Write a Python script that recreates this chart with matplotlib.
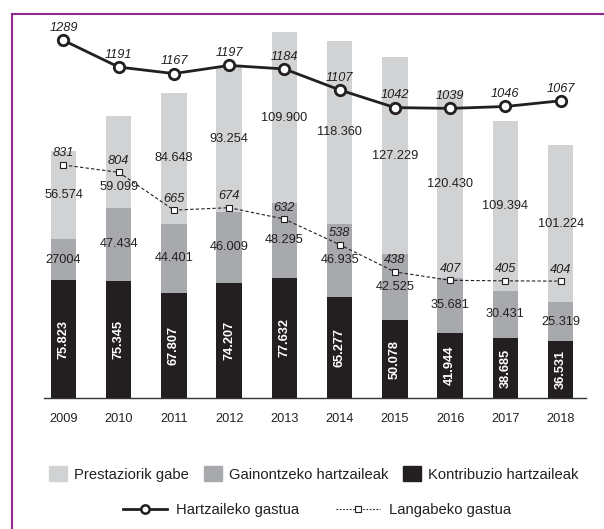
import matplotlib
matplotlib.use("Agg")
import matplotlib.pyplot as plt
from matplotlib.lines import Line2D
from matplotlib.patches import Patch
import numpy as np

years = ["2009", "2010", "2011", "2012", "2013", "2014", "2015", "2016", "2017", "2018"]
kontribuzio = [75823, 75345, 67807, 74207, 77632, 65277, 50078, 41944, 38685, 36531]
gainontzeko = [27004, 47434, 44401, 46009, 48295, 46935, 42525, 35681, 30431, 25319]
prestaziorik = [56574, 59099, 84648, 93254, 109900, 118360, 127229, 120430, 109394, 101224]
kontribuzio_lbl = ["75.823", "75.345", "67.807", "74.207", "77.632", "65.277", "50.078", "41.944", "38.685", "36.531"]
gainontzeko_lbl = ["27004", "47.434", "44.401", "46.009", "48.295", "46.935", "42.525", "35.681", "30.431", "25.319"]
prestaziorik_lbl = ["56.574", "59.099", "84.648", "93.254", "109.900", "118.360", "127.229", "120.430", "109.394", "101.224"]
hartzaileko = [1289, 1191, 1167, 1197, 1184, 1107, 1042, 1039, 1046, 1067]
langabeko = [831, 804, 665, 674, 632, 538, 438, 407, 405, 404]

C_LIGHT = "#d1d2d4"
C_MID = "#a7a9ac"
C_DARK = "#231f20"
PURPLE = "#8e2a8e"
TXT = "#231f20"

plt.rcParams["font.family"] = ["Liberation Sans", "DejaVu Sans"]

fig = plt.figure(figsize=(6.04, 5.29), dpi=100)
ax = fig.add_axes([44/604, 1-398/529, (586-44)/604, (398-20)/529])
x = np.arange(len(years))
w = 0.46

k = np.array(kontribuzio); g = np.array(gainontzeko); p = np.array(prestaziorik)
ax.bar(x, k, w, color=C_DARK, zorder=2)
ax.bar(x, g, w, bottom=k, color=C_MID, zorder=2)
ax.bar(x, p, w, bottom=k+g, color=C_LIGHT, zorder=2)

ax.set_xlim(-0.353, 9.46)
ax.set_ylim(0, 243870)
for s in ["top", "left", "right"]:
    ax.spines[s].set_visible(False)
ax.spines["bottom"].set_color("#333333")
ax.spines["bottom"].set_linewidth(1.0)
ax.set_yticks([])
ax.set_xticks(x)
ax.set_xticklabels(years, fontsize=9.2)
ax.tick_params(axis="x", length=0, pad=11, colors=TXT)

ax2 = ax.twinx()
ax2.set_ylim(-25.7, 1364)
ax2.axis("off")
ax2.plot(x, hartzaileko, color=C_DARK, lw=2.0, marker="o", ms=7.5, mfc="white",
         mec=C_DARK, mew=2.0, zorder=4)
ax2.plot(x, langabeko, color=C_DARK, lw=0.8, ls=(0, (3, 2)), marker="s", ms=5, mfc="white",
         mec=C_DARK, mew=0.8, zorder=4)
for i in range(len(years)):
    ax2.annotate(str(hartzaileko[i]), (x[i], hartzaileko[i]), xytext=(0, 4.5), textcoords="offset points",
                 ha="center", va="bottom", fontsize=9.2, style="italic", color=TXT)
    ax2.annotate(str(langabeko[i]), (x[i], langabeko[i]), xytext=(0, 4), textcoords="offset points",
                 ha="center", va="bottom", fontsize=9.2, style="italic", color=TXT)

for i in range(len(years)):
    ax.text(x[i], k[i]/2, kontribuzio_lbl[i], rotation=90, ha="center", va="center",
            color="white", fontsize=9.2, fontweight="bold", zorder=5)
    ax.text(x[i], k[i] + g[i]/2, gainontzeko_lbl[i], ha="center", va="center",
            color=TXT, fontsize=9.2, zorder=5)
    # light segment label: centred, but pushed below the dashed-line marker if they collide
    cy = ax.transData.transform((x[i], k[i] + g[i] + p[i]/2))[1]
    my = ax2.transData.transform((x[i], langabeko[i]))[1]
    if abs(cy - my) < 16:
        cy = my - 15
    yv = ax.transData.inverted().transform((0, cy))[1]
    ax.text(x[i], yv, prestaziorik_lbl[i], ha="center", va="center",
            color=TXT, fontsize=9.2, zorder=5)

# legends
h1 = [Patch(color=C_LIGHT), Patch(color=C_MID), Patch(color=C_DARK)]
l1 = ["Prestaziorik gabe", "Gainontzeko hartzaileak", "Kontribuzio hartzaileak"]
fig.legend(h1, l1, loc="center", bbox_to_anchor=(314/604, 1-474/529), ncol=3, frameon=False,
           fontsize=10.6, handlelength=1.2, handleheight=1.2, columnspacing=1.0, handletextpad=0.5,
           labelcolor=TXT)
h2 = [Line2D([], [], color=C_DARK, lw=2.0, marker="o", ms=6, mfc="white", mew=1.8),
      Line2D([], [], color=C_DARK, lw=0.8, ls=(0, (1.5, 1.5)), marker="s", ms=4, mfc="white", mew=0.8)]
l2 = ["Hartzaileko gastua", "Langabeko gastua"]
fig.legend(h2, l2, loc="center", bbox_to_anchor=(317/604, 1-510/529), ncol=2, frameon=False,
           fontsize=10.6, handlelength=3.0, columnspacing=2.5, handletextpad=0.6, labelcolor=TXT)

# purple frame (top and left)
fig.add_artist(Line2D([12/604, 1], [1-14/529, 1-14/529], color=PURPLE, lw=1.5, transform=fig.transFigure))
fig.add_artist(Line2D([12/604, 12/604], [0, 1-14/529], color=PURPLE, lw=1.5, transform=fig.transFigure))

fig.savefig("out.png", dpi=100)
